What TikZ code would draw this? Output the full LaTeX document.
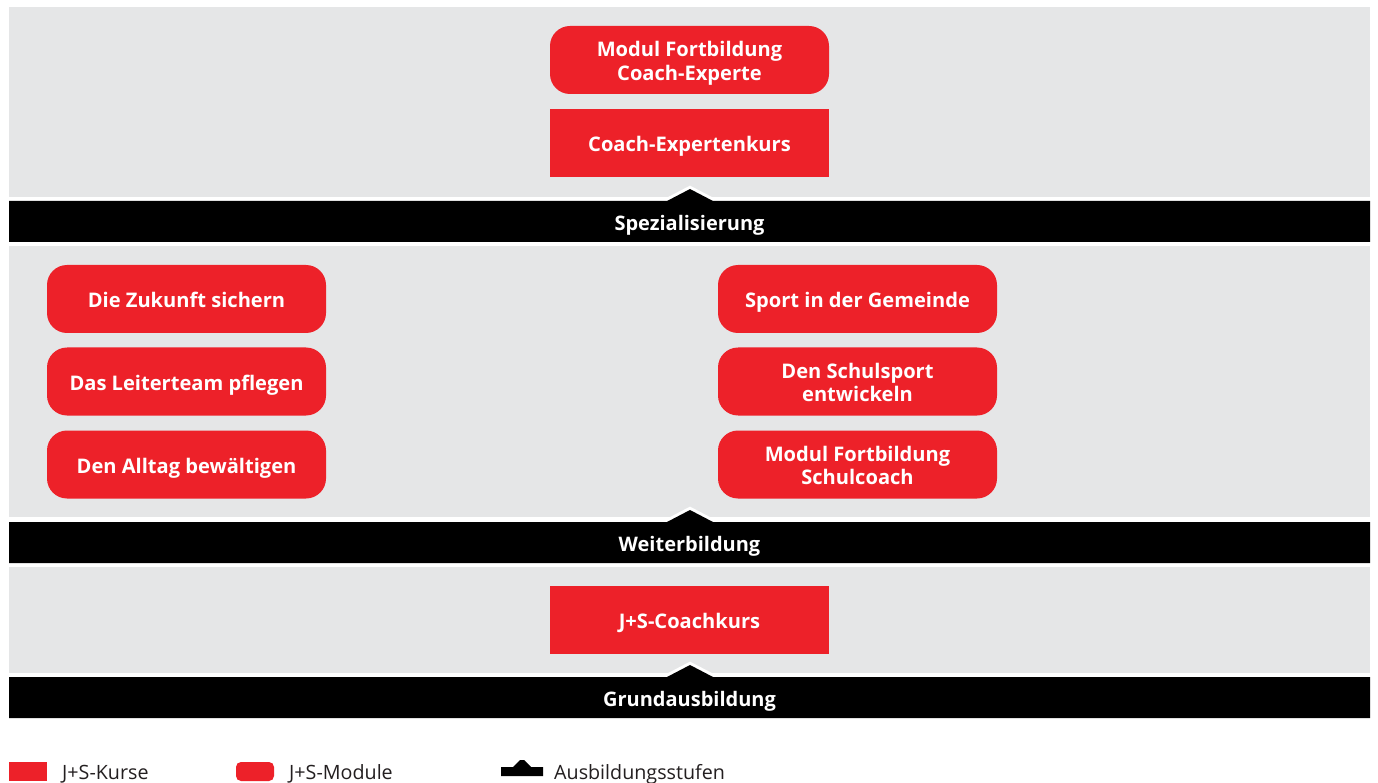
\documentclass[tikz,border=0pt]{standalone}
\usepackage{fontspec}
\setmainfont{Open Sans}
\definecolor{jsred}{HTML}{ED2129}
\definecolor{panelgray}{HTML}{E5E6E7}
\definecolor{legtext}{HTML}{231F20}
\newcommand{\lbl}[1]{\raisebox{-4pt}[\height][\depth]{\begin{tabular}{@{}c@{}}#1\end{tabular}}}
\tikzset{
  panel/.style={fill=panelgray, draw=none},
  barhalo/.style={draw=white, line width=6pt, line join=miter},
  barfill/.style={fill=black, draw=none},
  kurs/.style={fill=jsred, draw=none, minimum width=279pt, minimum height=68pt, inner sep=0pt,
    text=white, font=\fontsize{20.1}{23.5}\selectfont\bfseries},
  modul/.style={kurs, rounded corners=20pt},
  bartext/.style={text=white, font=\fontsize{20}{23}\selectfont\bfseries, inner sep=0pt},
  legtxt/.style={text=legtext, font=\fontsize{19.7}{24}\selectfont, inner sep=0pt, anchor=base west}
}
\begin{document}
\begin{tikzpicture}[x=1pt,y=-1pt]
\useasboundingbox (0,0) rectangle (1378,783);
\fill[white] (0,0) rectangle (1378,783);
% panels
\fill[panel] (9,7) rectangle (1370,197);
\fill[panel] (9,246) rectangle (1370,517);
\fill[panel] (9,567) rectangle (1370,673);
% level bars
\foreach \t/\b in {201/242, 522/563, 677/718}{
  \draw[barhalo] (9,\t) -- (667,\t) -- (690,\t-12) -- (713,\t) -- (1370,\t) -- (1370,\b) -- (9,\b) -- cycle;
  \fill[barfill] (9,\t) -- (667,\t) -- (690,\t-12) -- (713,\t) -- (1370,\t) -- (1370,\b) -- (9,\b) -- cycle;
}
\node[bartext] (spez) at (689.5,221.5) {\lbl{Spezialisierung}};
\node[bartext] (weit) at (689.5,542.5) {\lbl{Weiterbildung}};
\node[bartext] (grund) at (689.5,697.5) {\lbl{Grundausbildung}};
% boxes
\node[modul] (mfce) at (689.5,60) {\lbl{Modul Fortbildung\\Coach-Experte}};
\node[kurs] (cek) at (689.5,143) {\lbl{Coach-Expertenkurs}};
\node[modul] (zuk) at (186.5,299) {\lbl{Die Zukunft sichern}};
\node[modul] (lt) at (186.5,381.5) {\lbl{Das Leiterteam pflegen}};
\node[modul] (all) at (186.5,464.5) {\lbl{Den Alltag bewältigen}};
\node[modul] (sg) at (857.5,299) {\lbl{Sport in der Gemeinde}};
\node[modul] (ss) at (857.5,381.5) {\lbl{Den Schulsport\\entwickeln}};
\node[modul] (mfs) at (857.5,464.5) {\lbl{Modul Fortbildung\\Schulcoach}};
\node[kurs] (jsc) at (689.5,620) {\lbl{J+S-Coachkurs}};
% legend
\fill[jsred] (9,762) rectangle (47,781);
\node[legtxt] (lk) at (62,779) {J+S-Kurse};
\fill[jsred, rounded corners=5pt] (236,762) rectangle (274,781);
\node[legtxt] (lm) at (289,779) {J+S-Module};
\fill[black] (501,767) -- (513,767) -- (520,760) -- (524,760) -- (531,767) -- (543,767) -- (543,776) -- (501,776) -- cycle;
\node[legtxt] (la) at (554,779) {Ausbildungsstufen};
\end{tikzpicture}
\end{document}
